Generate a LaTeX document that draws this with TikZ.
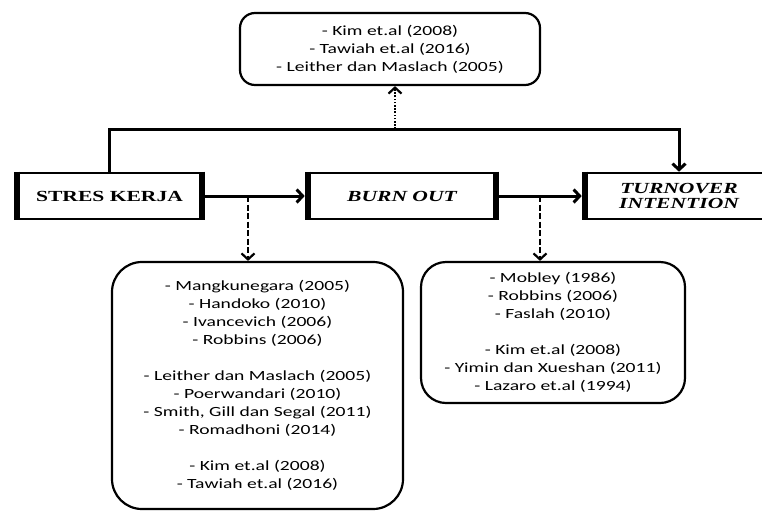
\documentclass[tikz,border=0pt]{standalone}
\usepackage{fontspec}
\setmainfont{Carlito}[FakeStretch=1.4]
\newfontfamily\judulfont{Liberation Serif}[FakeStretch=1.4]
\usetikzlibrary{arrows.meta,calc}

\begin{document}
\begin{tikzpicture}[x=1pt, y=-1pt,
    >={Straight Barb[length=6pt,width=13pt]},
    varbox/.style={draw, line width=2.6pt, minimum height=46pt, inner sep=0pt, align=center,
        font=\judulfont\bfseries\fontsize{15.4}{15.5}\selectfont},
    refbox/.style={draw, rounded corners=#1, line width=2.2pt, inner sep=0pt, align=center,
        font=\fontsize{14}{18}\selectfont},
    refbox/.default=15pt,
    garis/.style={line width=3pt},
    putus/.style={line width=2.2pt, dash pattern=on 6pt off 2.5pt},
    titik/.style={line width=2.2pt, dash pattern=on 1.6pt off 1.6pt}]
% ukuran gambar
\useasboundingbox (0,0) rectangle (762,512);
\clip (0,0) rectangle (762,512);

% variabel penelitian
\node[varbox, minimum width=189pt] (stres) at (109.5,196) {STRES KERJA};
\node[varbox, minimum width=192pt] (burn) at (402,196) {\itshape BURN OUT};
\node[varbox, minimum width=192pt] (turn) at (679,196) {\itshape TURNOVER\\\itshape INTENTION};

% sisi kiri dan kanan lebih tebal
\foreach \b in {stres,burn,turn}
    \draw[line width=6pt] ($(\b.north west)+(3,0)$) -- ($(\b.south west)+(3,0)$)
        ($(\b.north east)+(-3,0)$) -- ($(\b.south east)+(-3,0)$);

% kotak referensi
\node[refbox, minimum width=300pt, minimum height=72pt] (reftop) at (390,49)
    {- Kim et.al (2008)\\- Tawiah et.al (2016)\\- Leither dan Maslach (2005)};
\node[refbox=30pt, minimum width=291pt, minimum height=247pt] (refkiri) at (257.5,385.5)
    {- Mangkunegara (2005)\\- Handoko (2010)\\- Ivancevich (2006)\\- Robbins (2006)\\[18pt]
     - Leither dan Maslach (2005)\\- Poerwandari (2010)\\- Smith, Gill dan Segal (2011)\\- Romadhoni (2014)\\[18pt]
     - Kim et.al (2008)\\- Tawiah et.al (2016)};
\node[refbox=25pt, minimum width=264pt, minimum height=141pt] (refkanan) at (553,332.5)
    {- Mobley (1986)\\- Robbins (2006)\\- Faslah (2010)\\[18pt]
     - Kim et.al (2008)\\- Yimin dan Xueshan (2011)\\- Lazaro et.al (1994)};

% titik cabang
\coordinate (jtop) at (395,129);
\coordinate (jkiri) at (248,196);
\coordinate (jkanan) at (540,196);

% hubungan antar variabel
\draw[garis, ->] (stres) -- (burn);
\draw[garis, ->] (burn) -- (turn);
\draw[garis, ->] (stres.north) -- (stres.north |- jtop) -- (turn.north |- jtop) -- (turn.north);

% garis ke referensi
\draw[titik, ->] (jtop) -- (jtop |- reftop.south);
\draw[putus, ->] (jkiri) -- (jkiri |- refkiri.north);
\draw[putus, ->] (jkanan) -- (jkanan |- refkanan.north);
\end{tikzpicture}
\end{document}
